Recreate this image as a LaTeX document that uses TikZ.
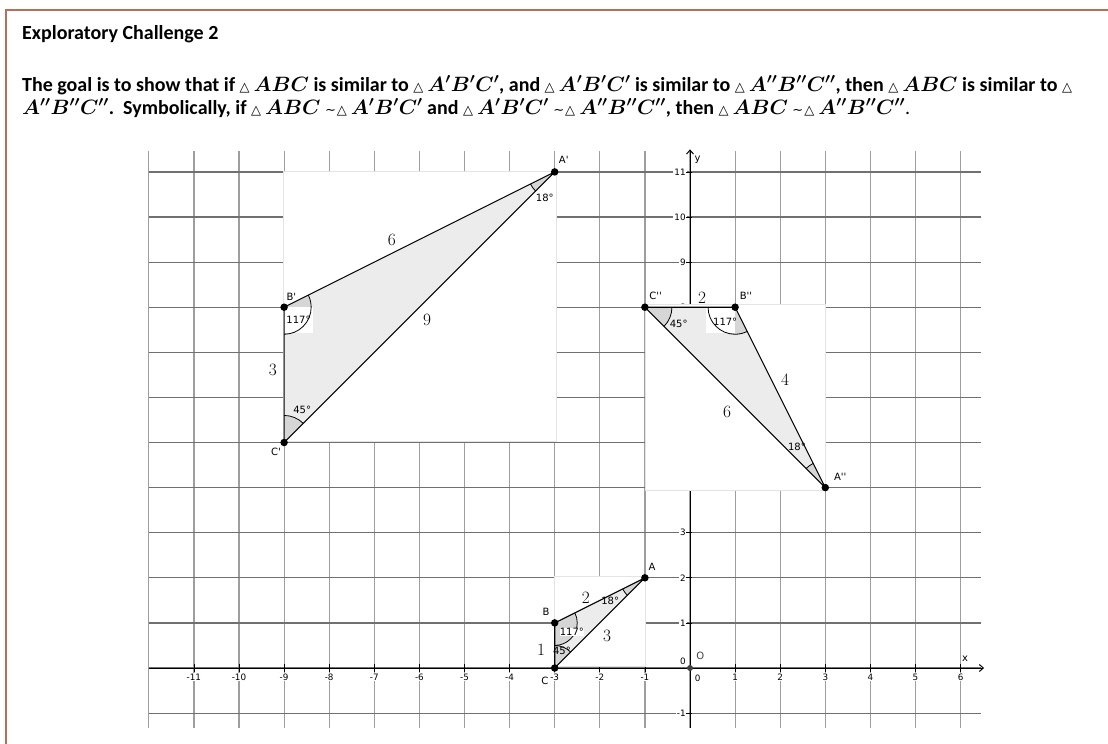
\documentclass[tikz,border=0pt]{standalone}
\usepackage{amsmath,bm}
\usepackage{fontspec}
\setmainfont{Carlito}
\newfontfamily\ggfont{DejaVu Sans}
\usetikzlibrary{arrows.meta}
\definecolor{framebrown}{RGB}{183,110,91}
\definecolor{hgrid}{RGB}{112,112,112}
\definecolor{vgrid}{RGB}{158,158,158}
\definecolor{trifill}{RGB}{236,236,236}
\definecolor{angfill}{RGB}{214,214,214}
\definecolor{rectedge}{RGB}{228,228,228}
\newcommand\smalltri{{\ggfont\mdseries\fontsize{13}{13}\selectfont △}}
\newcommand\smallsim{{\ggfont\mdseries\fontsize{13}{13}\selectfont ∼}}
\newcommand\trg[1]{\smalltri\hspace{4pt}$\bm{#1}$}
\newcommand\simtrg[1]{\smallsim\hspace{1pt}\smalltri\hspace{4pt}$\bm{#1}$}
\tikzset{
  hline/.style={draw=hgrid, line width=1.2pt},
  vline/.style={draw=vgrid, line width=1.2pt},
  axisline/.style={draw=black, line width=1pt},
  ticklab/.style={font=\ggfont\fontsize{8.8}{9}\selectfont, inner sep=1pt, fill=white},
  cover/.style={fill=white, draw=rectedge, line width=0.6pt},
  tri/.style={draw=black, line width=1.1pt, line join=round},
  angsec/.style={fill=angfill},
  angarc/.style={draw=black, line width=0.8pt},
  vtx/.style={circle, fill=black, inner sep=0pt, minimum size=7.5pt},
  vlab/.style={font=\ggfont\fontsize{10}{11}\selectfont, inner sep=1pt},
  alab/.style={font=\ggfont\fontsize{10}{11}\selectfont, inner sep=1pt},
  slab/.style={font=\fontsize{17.28}{18}\selectfont, inner sep=0pt},
  headtext/.style={font=\bfseries\fontsize{20}{23}\selectfont, anchor=base west, inner sep=0pt},
}
\begin{document}
\begin{tikzpicture}[x=1pt,y=-1pt]
\useasboundingbox (0,0) rectangle (1108,744);
% frame
\draw[framebrown, line width=2.6pt] (6,744) -- (6,10) -- (1108,10);
% header text
\node[headtext] (title) at (22,39) {Exploratory Challenge 2};
\node[headtext] (line2) at (22,91) {The goal is to show that if \trg{ABC} is similar to \trg{A'B'C'}, and \trg{A'B'C'} is similar to \trg{A''B''C''}, then \trg{ABC} is similar to \smalltri};
\node[headtext] (line3) at (22,114) {$\bm{A''B''C''}$.\ \ Symbolically, if \trg{ABC} \simtrg{A'B'C'} and \trg{A'B'C'} \simtrg{A''B''C''}, then \trg{ABC} \simtrg{A''B''C''}{\mdseries .}};

\begin{scope}[shift={(690pt,-668pt)}, x=45.1pt, y=45.1pt]
  % grid
  \foreach \i in {-12,...,6} \draw[vline] (\i,-1.33) -- (\i,11.46);
  \foreach \j in {-1,...,11} \draw[hline] (-12,\j) -- (6.45,\j);
  % tick labels
  \foreach \i in {-11,...,-1,1,2,...,6} \node[ticklab] (xl\i) at (\i,-0.2) {\i};
  \foreach \j in {-1,1,2,...,11} \node[ticklab, anchor=east] (yl\j) at (-0.07,\j) {\j};
  \node[ticklab] (xzero) at (0.17,-0.22) {0};
  \node[ticklab, anchor=east] (yzero) at (-0.07,0.14) {0};
  % axes
  \coordinate (xs) at (-12,0);
  \coordinate (xe) at (6.52,0);
  \coordinate (ys) at (0,-1.33);
  \coordinate (ye) at (0,11.5);
  \draw[axisline, -{Straight Barb[length=4pt,width=7pt]}] (xs) -- (xe);
  \draw[axisline, -{Straight Barb[length=4pt,width=7pt]}] (ys) -- (ye);
  \foreach \i in {-11,...,-1,1,2,...,6} \draw[black, line width=0.8pt] (\i,-0.09) -- (\i,0.09);
  \foreach \j in {-1,1,2,...,11} \draw[black, line width=0.8pt] (-0.09,\j) -- (0.05,\j);
  \node[vlab] (xname) at (6.1,0.2) {x};
  \node[vlab] (yname) at (0.17,11.27) {y};
  % white covers
  \draw[cover] (-9.02,5.02) rectangle (-2.97,11.02);
  \draw[cover] (-1,3.94) rectangle (3,8.07);
  \draw[cover] (-3,0.03) rectangle (-1,2.03);

  % ---------- triangle A'B'C' ----------
  \coordinate (A1) at (-3,11);
  \coordinate (B1) at (-9,8);
  \coordinate (C1) at (-9,5);
  \fill[trifill] (A1) -- (B1) -- (C1) -- cycle;
  \fill[angsec] (B1) -- ++(270:0.6) arc[start angle=270,end angle=386.57,radius=0.6] -- cycle;
  \fill[angsec] (C1) -- ++(45:0.6) arc[start angle=45,end angle=90,radius=0.6] -- cycle;
  \fill[angsec] (A1) -- ++(206.57:0.6) arc[start angle=206.57,end angle=225,radius=0.6] -- cycle;
  \fill[white] (-9,7.43) rectangle (-8.36,8);
  \draw[angarc] (B1) ++(270:0.6) arc[start angle=270,end angle=386.57,radius=0.6];
  \draw[angarc] (C1) ++(45:0.6) arc[start angle=45,end angle=90,radius=0.6];
  \draw[angarc] (A1) ++(206.57:0.6) arc[start angle=206.57,end angle=225,radius=0.6];
  \draw[tri] (A1) -- (B1) -- (C1) -- cycle;
  \node[alab] (a1ang) at (-3.22,10.42) {18°};
  \node[alab] (b1ang) at (-8.68,7.72) {117°};
  \node[alab] (c1ang) at (-8.6,5.72) {45°};
  \node[slab] (s1ab) at (-6.61,9.49) {$6$};
  \node[slab] (s1ac) at (-5.83,7.72) {$9$};
  \node[slab] (s1bc) at (-9.25,6.61) {$3$};
  \node[vtx] (pA1) at (A1) {};
  \node[vtx] (pB1) at (B1) {};
  \node[vtx] (pC1) at (C1) {};
  \node[vlab] (lA1) at (-2.8,11.26) {A'};
  \node[vlab] (lB1) at (-8.84,8.24) {B'};
  \node[vlab] (lC1) at (-9.18,4.79) {C'};

  % ---------- triangle A''B''C'' ----------
  \coordinate (A2) at (3,4);
  \coordinate (B2) at (1,8);
  \coordinate (C2) at (-1,8);
  \fill[trifill] (A2) -- (B2) -- (C2) -- cycle;
  \fill[angsec] (C2) -- ++(-45:0.6) arc[start angle=-45,end angle=0,radius=0.6] -- cycle;
  \fill[angsec] (B2) -- ++(180:0.6) arc[start angle=180,end angle=296.57,radius=0.6] -- cycle;
  \fill[angsec] (A2) -- ++(116.57:0.6) arc[start angle=116.57,end angle=135,radius=0.6] -- cycle;
  \fill[white] (0.36,7.43) rectangle (1,8);
  \draw[angarc] (C2) ++(-45:0.6) arc[start angle=-45,end angle=0,radius=0.6];
  \draw[angarc] (B2) ++(180:0.6) arc[start angle=180,end angle=296.57,radius=0.6];
  \draw[angarc] (A2) ++(116.57:0.6) arc[start angle=116.57,end angle=135,radius=0.6];
  \draw[tri] (A2) -- (B2) -- (C2) -- cycle;
  \node[alab] (c2ang) at (-0.25,7.63) {45°};
  \node[alab] (b2ang) at (0.78,7.67) {117°};
  \node[alab] (a2ang) at (2.37,4.9) {18°};
  \node[slab] (s2cb) at (0.27,8.2) {$2$};
  \node[slab] (s2ba) at (2.11,6.39) {$4$};
  \node[slab] (s2ca) at (0.82,5.68) {$6$};
  \node[vtx] (pA2) at (A2) {};
  \node[vtx] (pB2) at (B2) {};
  \node[vtx] (pC2) at (C2) {};
  \node[vlab] (lA2) at (3.33,4.23) {A''};
  \node[vlab] (lB2) at (1.24,8.25) {B''};
  \node[vlab] (lC2) at (-0.76,8.25) {C''};

  % ---------- triangle ABC ----------
  \coordinate (A0) at (-1,2);
  \coordinate (B0) at (-3,1);
  \coordinate (C0) at (-3,0);
  \fill[trifill] (A0) -- (B0) -- (C0) -- cycle;
  \fill[angsec] (B0) -- ++(270:0.5) arc[start angle=270,end angle=386.57,radius=0.5] -- cycle;
  \fill[angsec] (C0) -- ++(45:0.5) arc[start angle=45,end angle=90,radius=0.5] -- cycle;
  \fill[angsec] (A0) -- ++(206.57:0.55) arc[start angle=206.57,end angle=225,radius=0.55] -- cycle;
  \draw[angarc] (B0) ++(270:0.5) arc[start angle=270,end angle=386.57,radius=0.5];
  \draw[angarc] (C0) ++(45:0.5) arc[start angle=45,end angle=90,radius=0.5];
  \draw[angarc] (A0) ++(206.57:0.55) arc[start angle=206.57,end angle=225,radius=0.55];
  \draw[tri] (A0) -- (B0) -- (C0) -- cycle;
  \node[alab, fill=white, inner sep=0.3pt] (b0ang) at (-2.62,0.8) {117°};
  \node[alab, inner sep=0.3pt] (c0ang) at (-2.84,0.38) {45°};
  \node[alab] (a0ang) at (-1.77,1.49) {18°};
  \node[slab] (s0ab) at (-2.31,1.55) {$2$};
  \node[slab] (s0ac) at (-1.84,0.71) {$3$};
  \node[slab] (s0bc) at (-3.3,0.4) {$1$};
  \node[vtx] (pA0) at (A0) {};
  \node[vtx] (pB0) at (B0) {};
  \node[vtx] (pC0) at (C0) {};
  \node[vlab] (lA0) at (-0.84,2.24) {A};
  \node[vlab] (lB0) at (-3.19,1.24) {B};
  \node[vlab] (lC0) at (-3.22,-0.29) {C};

  % origin
  \node[circle, fill=black!75, inner sep=0pt, minimum size=6pt] (O) at (0,0) {};
  \node[vlab, text=black!75] (lO) at (0.23,0.27) {O};
\end{scope}
\end{tikzpicture}
\end{document}
